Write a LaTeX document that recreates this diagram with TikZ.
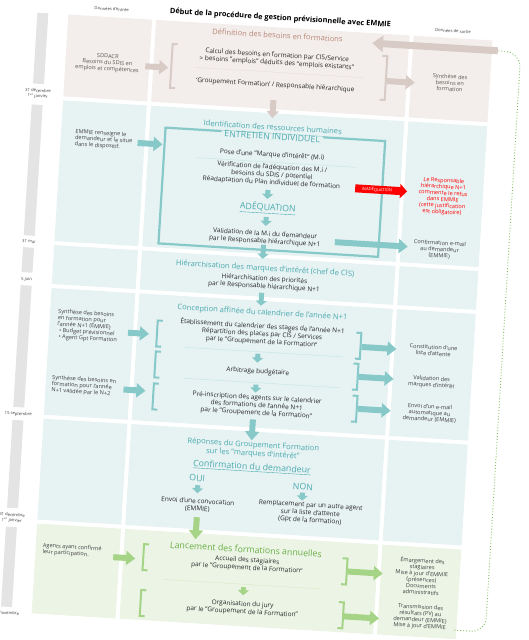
\documentclass[tikz,border=0pt]{standalone}
\usepackage{fontspec}
\setmainfont{Open Sans}
\usepackage{xcolor}
\usepackage{tikz}
\usetikzlibrary{
    positioning,
    arrows.meta
}
\definecolor{beigeBg}{RGB}{243,238,235}
\definecolor{beigeDark}{RGB}{216,203,198}
\definecolor{beigeHead}{RGB}{185,135,120}
\definecolor{beigeInk}{RGB}{95,88,86}
\definecolor{tealBg}{RGB}{231,242,243}
\definecolor{tealDark}{RGB}{135,200,200}
\definecolor{tealHead}{RGB}{75,170,175}
\definecolor{greenBg}{RGB}{236,244,230}
\definecolor{greenDark}{RGB}{165,212,135}
\definecolor{greenHead}{RGB}{105,175,70}
\definecolor{loopGreen}{RGB}{130,190,95}
\definecolor{barGray}{RGB}{228,228,228}
\definecolor{inkGray}{RGB}{40,40,40}
\definecolor{sideGray}{RGB}{65,65,65}
\definecolor{alertRed}{RGB}{255,0,0}

\tikzset{
    body/.style={font=\fontsize{6.5}{7.6}\selectfont, text=inkGray, align=center, inner sep=0pt},
    side/.style={font=\fontsize{5.6}{6.3}\selectfont, text=sideGray, align=center, inner sep=0pt},
    date/.style={font=\fontsize{4.2}{5.4}\selectfont, text=sideGray, align=center, inner sep=0pt},
    head/.style={font=\fontsize{7.6}{8.8}\selectfont, align=center, inner sep=0pt},
    bighead/.style={font=\fontsize{8.8}{10}\selectfont, inner sep=0pt},
    tag/.style={font=\fontsize{4.1}{5}\selectfont, text=white, inner sep=0pt},
    blkB/.style={draw=beigeDark, line width=6pt, -{Triangle[width=14pt,length=9pt]}},
    bigB/.style={draw=beigeDark, line width=7pt, -{Triangle[width=16pt,length=11pt]}},
    minB/.style={draw=beigeDark, line width=6pt, -{Triangle[width=12pt,length=7pt]}},
    blkT/.style={draw=tealDark, line width=6pt, -{Triangle[width=14pt,length=9pt]}},
    minT/.style={draw=tealDark, line width=5pt, -{Triangle[width=11pt,length=5pt]}},
    blkR/.style={draw=alertRed, line width=8pt, -{Triangle[width=14pt,length=7pt]}},
    blkG/.style={draw=greenDark, line width=6pt, -{Triangle[width=14pt,length=9pt]}},
    minG/.style={draw=greenDark, line width=5pt, -{Triangle[width=11pt,length=5pt]}},
    brB/.style={draw=beigeDark, line width=2pt},
    brT/.style={draw=tealDark, line width=2pt},
    brG/.style={draw=greenDark, line width=2pt},
    sepB/.style={draw=beigeDark!60, line width=0.5pt},
    sepT/.style={draw=tealDark!45, line width=0.5pt},
    sepG/.style={draw=greenDark!45, line width=0.5pt},
    pics/lbr/.style={code={\draw[pic actions] (5,-#1) -- (0,-#1) -- (0,#1) -- (5,#1);}},
    pics/rbr/.style={code={\draw[pic actions] (-5,-#1) -- (0,-#1) -- (0,#1) -- (-5,#1);}}
}

\begin{document}
\begin{tikzpicture}[x=1pt, y=-1pt]
    \useasboundingbox (0,0) rectangle (528,640);
    \begin{scope}[rotate around={-3.5:(264,320)}, transform shape]
        % cells
        \fill[beigeBg] (50,27) rectangle (134,109) (138,27) rectangle (392,109) (396,27) rectangle (475,109);
        \fill[tealBg] (50,113) rectangle (134,254) (138,113) rectangle (392,254) (396,113) rectangle (475,254);
        \fill[tealBg] (50,258) rectangle (134,297) (138,258) rectangle (392,297) (396,258) rectangle (475,297);
        \fill[tealBg] (50,301) rectangle (134,428) (138,301) rectangle (392,428) (396,301) rectangle (475,428);
        \fill[tealBg] (50,432) rectangle (134,533) (138,432) rectangle (392,533) (396,432) rectangle (475,533);
        \fill[greenBg] (50,537) rectangle (134,627) (138,537) rectangle (392,627) (396,537) rectangle (475,627);

        % timeline
        \fill[barGray] (19,27) rectangle (30,98) (19,119) rectangle (30,250) (19,262) rectangle (30,287)
            (19,300) rectangle (30,422) (19,435) rectangle (30,523) (19,542) rectangle (30,622);
        \node[date] (d1) at (24.5,108) {31 décembre\\1\textsuperscript{er} janvier};
        \node[date] (d2) at (24.5,256) {31 mai};
        \node[date] (d3) at (24.5,294) {5 juin};
        \node[date] (d4) at (24.5,429) {15 septembre};
        \node[date] (d5) at (24.5,533) {31 décembre\\1\textsuperscript{er} janvier};
        \node[date] (d6) at (24.5,628) {30 novembre};

        % header
        \node[font=\fontsize{7.4}{9}\selectfont\bfseries, inner sep=0pt] (title) at (262,18) {Début de la procédure de gestion prévisionnelle avec EMMIE};
        \node[date] (inLbl) at (93,19) {Données d'entrée};
        \node[date] (outLbl) at (435,20) {Données de sortie};

        % definition des besoins
        \node[head, text=beigeHead] (defHead) at (260,35) {Définition des besoins en formations};
        \node[side, text=beigeInk] (sddacr) at (92,73) {SDDACR\\Besoins du SDIS en\\emplois et compétences};
        \node[body] (calc) at (261,59) {Calcul des besoins en formation par CIS/Service\\> besoins "emplois" déduits des "emplois existants"};
        \draw[sepB] (180,72) -- (348,72);
        \node[body] (gfrh) at (261,85) {`Groupement Formation' / Responsable hiérarchique};
        \node[side, text=beigeInk] (synthOut) at (435,72) {Synthèse des\\besoins en\\formation};
        \pic[brB] at (156,72) {lbr=22};
        \pic[brB] at (371,71) {rbr=22};
        \coordinate (sdOut) at (130,74);
        \coordinate (sdIn) at (153,74);
        \coordinate (defOut) at (372,74);
        \coordinate (synthIn) at (400,74);
        \coordinate (loopTail) at (481,37);
        \coordinate (loopTip) at (355,37);
        \coordinate (defDown) at (260,100);
        \coordinate (idTop) at (260,118);
        \draw[blkB] (sdOut) -- (sdIn);
        \draw[blkB] (defOut) -- (synthIn);
        \draw[bigB] (loopTail) -- (loopTip);
        \draw[minB] (defDown) -- (idTop);

        % entretien individuel
        \node[head, text=tealHead] (idHead) at (261,127) {Identification des ressources humaines};
        \draw[tealDark, line width=2.2pt] (154,134) rectangle (374,250);
        \node[bighead, text=tealHead, fill=tealBg, inner xsep=3pt] (entretien) at (261,136.5) {ENTRETIEN INDIVIDUEL};
        \node[side, align=left] (emmie) at (93,150) {EMMIE renseigne le\\demandeur et le situe\\dans le dispositif.};
        \node[body] (pose) at (262,155) {Pose d'une "Marque d'intérêt" (M.i)};
        \draw[sepT] (187,162) -- (347,162);
        \node[body] (verif) at (263,175) {Vérification de l'adéquation des M.i /\\besoins du SDIS / potentiel\\Réadaptation du Plan individuel de formation};
        \node[bighead, text=tealHead] (adeq) at (261,208) {\underline{ADÉQUATION}};
        \node[body] (valid) at (260,238) {Validation de la M.i du demandeur\\par le Responsable hiérarchique N+1};
        \node[side] (confirm) at (435,239) {Confirmation e-mail\\au demandeur\\(EMMIE)};
        \node[side, text=alertRed] (refus) at (435,186) {Le Responsable\\hiérarchique N+1\\commente le refus\\dans EMMIE\\(cette justification\\est obligatoire)};
        \coordinate (emOut) at (127,151);
        \coordinate (emIn) at (152,151);
        \coordinate (verifDown) at (260,190);
        \coordinate (adeqTop) at (260,199);
        \coordinate (adeqDown) at (260,217);
        \coordinate (validTop) at (260,226);
        \coordinate (validOut) at (330,238);
        \coordinate (confIn) at (403,238);
        \coordinate (inadOut) at (347,183);
        \coordinate (refusIn) at (399,183);
        \coordinate (validDown) at (259,245);
        \coordinate (hierTop) at (259,259);
        \draw[blkT] (emOut) -- (emIn);
        \draw[minT] (verifDown) -- (adeqTop);
        \draw[minT] (adeqDown) -- (validTop);
        \draw[blkT] (validOut) -- (confIn);
        \draw[blkR] (inadOut) -- (refusIn) node[tag, pos=0.42] (inad) {INADÉQUATION};
        \draw[minT] (validDown) -- (hierTop);

        % hierarchisation
        \node[head, text=tealHead] (hierHead) at (262,269) {Hiérarchisation des marques d'intérêt (chef de CIS)};
        \node[body] (hier) at (262,283) {Hiérarchisation des priorités\\par le Responsable hiérarchique N+1};
        \coordinate (hierDown) at (260,293);
        \coordinate (concTop) at (260,306);
        \draw[minT] (hierDown) -- (concTop);

        % conception du calendrier
        \node[head, text=tealHead] (concHead) at (262,313) {Conception affinée du calendrier de l'année N+1};
        \node[side, align=left, anchor=west] (synthA) at (58,337) {Synthèse des besoins\\en formation pour\\l'année N+1 (EMMIE)\\\hspace{2pt}\textbullet\ Budget prévisionnel\\\hspace{2pt}\textbullet\ Agent Gpt Formation};
        \node[side, align=left, anchor=west] (synthB) at (56,397) {Synthèse des besoins en\\formation pour l'année\\N+1 validée par le N+2};
        \node[body] (etab) at (263,334) {Établissement du calendrier des stages de l'année N+1\\Répartition des places par CIS / Services\\par le "Groupement de la Formation"};
        \draw[sepT] (187,352) -- (345,352);
        \node[body] (arbit) at (261,372) {Arbitrage budgétaire};
        \draw[sepT] (187,383) -- (343,383);
        \node[body] (preins) at (262,406) {Pré-inscription des agents sur le calendrier\\des formations de l'année N+1\\par le "Groupement de la Formation"};
        \node[side] (constit) at (435,340) {Constitution d'une\\liste d'attente};
        \node[side] (validMarq) at (435,372) {Validation des\\marques d'intérêt};
        \node[side] (envoiMail) at (435,403) {Envoi d'un e-mail\\automatique au\\demandeur (EMMIE)};
        \pic[brT] at (158,340) {lbr=13};
        \pic[brT] at (362,340) {rbr=13};
        \pic[brT] at (158,371) {lbr=13};
        \pic[brT] at (361,371) {rbr=13};
        \pic[brT] at (158,403) {lbr=13};
        \pic[brT] at (362,403) {rbr=13};
        \coordinate (synthAOut) at (129,341);
        \coordinate (synthAIn) at (150,341);
        \coordinate (synthBOut) at (128,398);
        \coordinate (synthBIn) at (150,398);
        \coordinate (etabOut) at (363,341);
        \coordinate (constIn) at (398,341);
        \coordinate (etabDown) at (260,354);
        \coordinate (arbitTop) at (260,363);
        \coordinate (arbitOut) at (362,371);
        \coordinate (validMarqIn) at (397,371);
        \coordinate (arbitDown) at (260,385);
        \coordinate (preinsTop) at (260,393);
        \coordinate (preinsOut) at (363,403);
        \coordinate (mailIn) at (396,403);
        \coordinate (preinsDown) at (259,420);
        \coordinate (repTop) at (259,441);
        \draw[blkT] (synthAOut) -- (synthAIn);
        \draw[blkT] (synthBOut) -- (synthBIn);
        \draw[blkT] (etabOut) -- (constIn);
        \draw[minT] (etabDown) -- (arbitTop);
        \draw[blkT] (arbitOut) -- (validMarqIn);
        \draw[minT] (arbitDown) -- (preinsTop);
        \draw[blkT] (preinsOut) -- (mailIn);
        \draw[blkT] (preinsDown) -- (repTop);

        % reponses
        \node[head, text=tealHead] (repHead) at (261,450) {Réponses du Groupement Formation\\sur les "marques d'intérêt"};
        \node[bighead, text=tealHead] (confHead) at (261,468) {\underline{Confirmation du demandeur}};
        \node[bighead, text=tealHead] (oui) at (207,482) {OUI};
        \node[bighead, text=tealHead] (non) at (313,484) {NON};
        \node[body] (convoc) at (209,509) {Envoi d'une convocation\\(EMMIE)};
        \node[body] (rempl) at (322,510) {Remplacement par un autre agent\\sur la liste d'attente\\(Gpt de la formation)};
        \coordinate (ouiDown) at (208,489);
        \coordinate (convocTop) at (208,497);
        \coordinate (nonDown) at (313,490);
        \coordinate (remplTop) at (313,498);
        \coordinate (convocDown) at (209,521);
        \coordinate (lancTop) at (209,543);
        \draw[minT] (ouiDown) -- (convocTop);
        \draw[minT] (nonDown) -- (remplTop);
        \draw[blkG] (convocDown) -- (lancTop);

        % lancement des formations
        \node[bighead, text=greenHead] (lancHead) at (260,550) {Lancement des formations annuelles};
        \node[side, align=left, anchor=west] (agents) at (57,562) {Agents ayant confirmé\\leur participation.};
        \node[body] (accueil) at (262,565) {Accueil des stagiaires\\par le "Groupement de la Formation"};
        \draw[sepG] (180,585) -- (337,585);
        \node[body] (orga) at (260,609) {Organisation du jury\\par le "Groupement de la Formation"};
        \node[side] (emarg) at (437,566) {Émargement des\\stagiaires\\Mise à jour d'EMMIE\\(présences)\\Documents\\administratifs};
        \node[side] (transm) at (438,607) {Transmission des\\résultats (PV) au\\demandeur (EMMIE)\\Mise à jour d'EMMIE};
        \pic[brG] at (158,564) {lbr=13};
        \pic[brG] at (362,566) {rbr=13};
        \pic[brG] at (158,610) {lbr=13};
        \pic[brG] at (361,610) {rbr=13};
        \coordinate (agentsOut) at (128,566);
        \coordinate (agentsIn) at (150,566);
        \coordinate (accueilOut) at (363,566);
        \coordinate (emargIn) at (398,566);
        \coordinate (accueilDown) at (260,588);
        \coordinate (orgaTop) at (260,596);
        \coordinate (orgaOut) at (362,611);
        \coordinate (transmIn) at (397,611);
        \coordinate (loopBack) at (473,618);
        \draw[blkG] (agentsOut) -- (agentsIn);
        \draw[blkG] (accueilOut) -- (emargIn);
        \draw[minG] (accueilDown) -- (orgaTop);
        \draw[blkG] (orgaOut) -- (transmIn);

        % retour vers le debut
        \draw[loopGreen, dotted, line width=0.9pt, rounded corners=14pt] (loopBack) -- (504,618) -- (504,38) -- (loopTail);
    \end{scope}
\end{tikzpicture}
\end{document}
